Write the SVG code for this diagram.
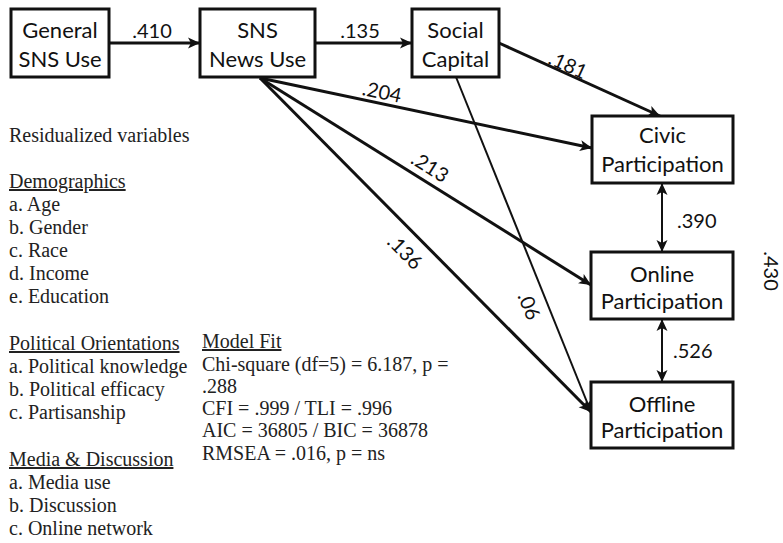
<svg xmlns="http://www.w3.org/2000/svg" width="783" height="543" viewBox="0 0 783 543">
<style>
.box{fill:#fff;stroke:#111;stroke-width:3}
.bt{font-family:Lato,"Liberation Sans",sans-serif;font-size:22px;fill:#111;text-anchor:middle}
.lb{font-family:Lato,"Liberation Sans",sans-serif;font-size:20px;fill:#111}
.lm{text-anchor:middle}
.e{stroke:#111;stroke-width:3;fill:none}
.thin{stroke-width:2}
.tx{font-family:"Liberation Serif","Times New Roman",serif;font-size:20px;fill:#222}
.u{text-decoration:underline}
</style>
<defs>
<marker id="ah" markerUnits="userSpaceOnUse" markerWidth="13" markerHeight="12" refX="12" refY="6" orient="auto-start-reverse" viewBox="0 0 13 12">
<path d="M0,0.5 L12,6 L0,11.5 L3,6 Z" fill="#111"/>
</marker>
</defs>
<rect width="783" height="543" fill="#fff"/>
<g id="connectors">
<line class="e" x1="109" y1="43" x2="200" y2="43" marker-end="url(#ah)"/>
<line class="e" x1="315" y1="43" x2="412" y2="43" marker-end="url(#ah)"/>
<line class="e" x1="499" y1="43" x2="660" y2="116" marker-end="url(#ah)"/>
<line class="e" x1="260" y1="78" x2="592" y2="148" marker-end="url(#ah)"/>
<line class="e" x1="260" y1="78" x2="591" y2="285" marker-end="url(#ah)"/>
<line class="e" x1="260" y1="78" x2="591" y2="412" marker-end="url(#ah)"/>
<line class="e thin" x1="456" y1="77" x2="591" y2="412" marker-end="url(#ah)"/>
<line class="e thin" x1="662" y1="183" x2="662" y2="252" marker-start="url(#ah)" marker-end="url(#ah)"/>
<line class="e thin" x1="662" y1="319" x2="662" y2="382" marker-start="url(#ah)" marker-end="url(#ah)"/>
<text class="lb lm" x="152" y="38">.410</text>
<text class="lb lm" x="360" y="38">.135</text>
<text class="lb lm" transform="translate(568,65) rotate(24.5)" y="7">.181</text>
<text class="lb lm" transform="translate(382,92) rotate(12)" y="7">.204</text>
<text class="lb lm" transform="translate(430,167) rotate(32)" y="7">.213</text>
<text class="lb lm" transform="translate(405,252) rotate(45)" y="7">.136</text>
<text class="lb lm" transform="translate(529,306) rotate(68)" y="7">.06</text>
<text class="lb" x="677" y="228">.390</text>
<text class="lb" x="673" y="358">.526</text>
<text class="lb lm" transform="translate(771,271) rotate(90)" y="7">.430</text>
</g>
<g id="general">
<rect class="box" x="11" y="9" width="98" height="68"/>
<text class="bt" x="60" y="38">General</text>
<text class="bt" x="60" y="67">SNS Use</text>
</g>
<g id="snsnews">
<rect class="box" x="200" y="9" width="115" height="68"/>
<text class="bt" x="257.5" y="38">SNS</text>
<text class="bt" x="257.5" y="67">News Use</text>
</g>
<g id="social">
<rect class="box" x="412" y="9" width="87" height="68"/>
<text class="bt" x="455.5" y="38">Social</text>
<text class="bt" x="455.5" y="67">Capital</text>
</g>
<g id="civic">
<rect class="box" x="592" y="116" width="141" height="67"/>
<text class="bt" x="662.5" y="143">Civic</text>
<text class="bt" x="662.5" y="172">Participation</text>
</g>
<g id="online">
<rect class="box" x="591" y="252" width="142" height="67"/>
<text class="bt" x="662" y="282">Online</text>
<text class="bt" x="662" y="309">Participation</text>
</g>
<g id="offline">
<rect class="box" x="591" y="382" width="142" height="66"/>
<text class="bt" x="662" y="412">Offline</text>
<text class="bt" x="662" y="438">Participation</text>
</g>
<g id="legend">
<text class="tx" x="9" y="142">Residualized variables</text>
<text class="tx u" x="9" y="188">Demographics</text>
<text class="tx" x="9" y="211">a. Age</text>
<text class="tx" x="9" y="234">b. Gender</text>
<text class="tx" x="9" y="257">c. Race</text>
<text class="tx" x="9" y="280">d. Income</text>
<text class="tx" x="9" y="303">e. Education</text>
<text class="tx u" x="9" y="350">Political Orientations</text>
<text class="tx" x="9" y="373">a. Political knowledge</text>
<text class="tx" x="9" y="396">b. Political efficacy</text>
<text class="tx" x="9" y="419">c. Partisanship</text>
<text class="tx u" x="9" y="466">Media &amp; Discussion</text>
<text class="tx" x="9" y="489">a. Media use</text>
<text class="tx" x="9" y="512">b. Discussion</text>
<text class="tx" x="9" y="535">c. Online network</text>
</g>
<g id="modelfit">
<text class="tx u" x="202" y="348">Model Fit</text>
<text class="tx" x="202" y="371">Chi-square (df=5) = 6.187, p =</text>
<text class="tx" x="202" y="393">.288</text>
<text class="tx" x="202" y="415">CFI = .999 / TLI = .996</text>
<text class="tx" x="202" y="437">AIC = 36805 / BIC = 36878</text>
<text class="tx" x="202" y="460">RMSEA = .016, p = ns</text>
</g>
</svg>
